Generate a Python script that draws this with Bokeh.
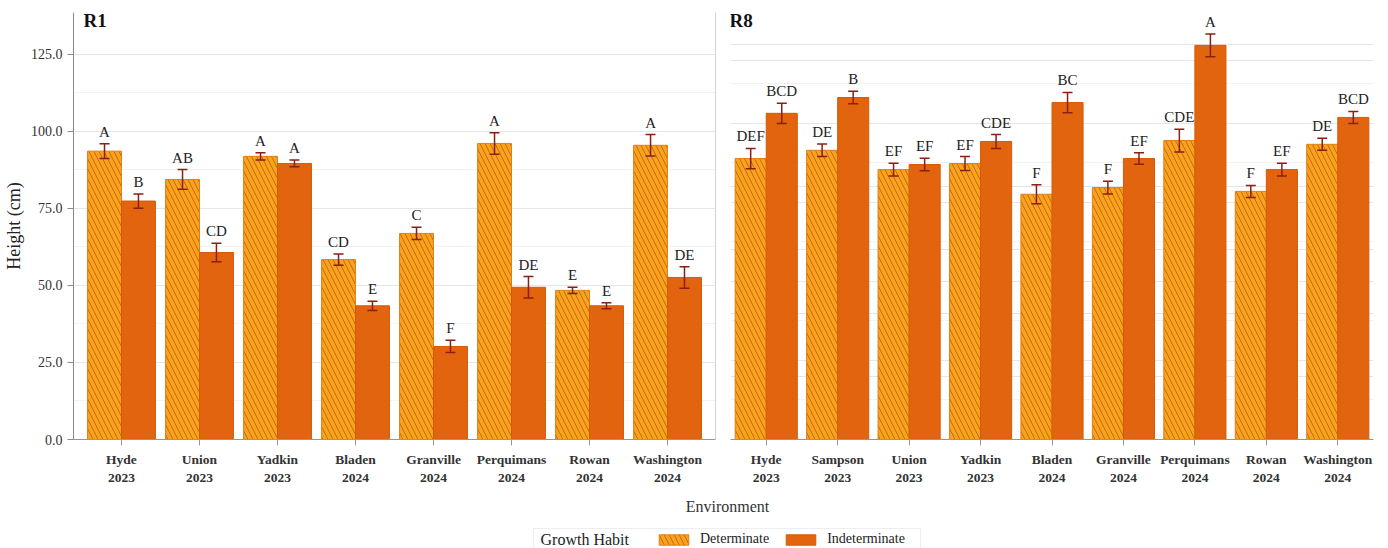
from bokeh.plotting import figure
from bokeh.models import (ColumnDataSource, FactorRange, Range1d, Whisker, TeeHead,
                          LinearAxis, FixedTicker, Label, Legend, BoxAnnotation,
                          LegendItem, NumeralTickFormatter, Grid)
from bokeh.transform import dodge
from bokeh.layouts import row, column
from bokeh.core.properties import value
from bokeh.embed import file_html
from bokeh.resources import INLINE

# ---------------- data ----------------
r1_sites = ["Hyde", "Union", "Yadkin", "Bladen", "Granville", "Perquimans", "Rowan", "Washington"]
r1_years = ["2023", "2023", "2023", "2024", "2024", "2024", "2024", "2024"]
r1_det = [93.6, 84.4, 91.9, 58.4, 66.9, 96.1, 48.4, 95.5]
r1_det_se = [2.4, 3.2, 1.2, 1.8, 2.0, 3.5, 1.0, 3.5]
r1_det_grp = ["A", "AB", "A", "CD", "C", "A", "E", "A"]
r1_ind = [77.4, 60.7, 89.6, 43.4, 30.2, 49.4, 43.4, 52.6]
r1_ind_se = [2.3, 3.0, 1.1, 1.5, 2.0, 3.5, 1.0, 3.5]
r1_ind_grp = ["B", "CD", "A", "E", "F", "DE", "E", "DE"]

r8_sites = ["Hyde", "Sampson", "Union", "Yadkin", "Bladen", "Granville", "Perquimans", "Rowan", "Washington"]
r8_years = ["2023", "2023", "2023", "2023", "2024", "2024", "2024", "2024", "2024"]
r8_det = [88.9, 91.5, 85.4, 87.3, 77.6, 79.7, 94.6, 78.5, 93.4]
r8_det_se = [3.2, 2.0, 2.0, 2.2, 3.0, 2.0, 3.6, 1.9, 1.9]
r8_det_grp = ["DEF", "DE", "EF", "EF", "F", "F", "CDE", "F", "DE"]
r8_ind = [103.2, 108.2, 87.0, 94.3, 106.6, 88.9, 124.7, 85.4, 101.9]
r8_ind_se = [3.2, 2.0, 2.0, 2.2, 3.2, 1.8, 3.6, 2.0, 1.9]
r8_ind_grp = ["BCD", "B", "EF", "CDE", "BC", "EF", "A", "EF", "BCD"]

habits = ["Determinate", "Indeterminate"]
y_major = [0, 25, 50, 75, 100, 125]
y_minor = [12.5, 37.5, 62.5, 87.5, 112.5]

# ---------------- style ----------------
FONT = value("Liberation Serif")
FONT_NAME = "Liberation Serif"
DET_FILL = "#F8A21E"
DET_HATCH = "#C96A0C"
DET_LINE = "#E0801A"
IND_FILL = "#E2640E"
IND_LINE = "#D45A0A"
ERR = "#8A1F14"
BAR_W = 0.435
OFF = BAR_W / 2


def panel(title, sites, years, det, det_se, det_grp, ind, ind_se, ind_grp,
          width, ymax, bl, br, pad, show_y):
    envs = [f"{s}\n{y}" for s, y in zip(sites, years)]
    src = ColumnDataSource(dict(
        env=envs, det=det, ind=ind,
        det_lo=[m - e for m, e in zip(det, det_se)], det_hi=[m + e for m, e in zip(det, det_se)],
        ind_lo=[m - e for m, e in zip(ind, ind_se)], ind_hi=[m + e for m, e in zip(ind, ind_se)],
        det_grp=det_grp, ind_grp=ind_grp))
    p = figure(x_range=FactorRange(*envs, range_padding=pad), y_range=Range1d(0, ymax),
               width=width, height=495, output_backend="svg", toolbar_location=None,
               min_border_left=bl, min_border_right=br, min_border_top=12, min_border_bottom=56,
               y_axis_location="left" if show_y else None, outline_line_color=None)
    xd = dodge("env", -OFF, range=p.x_range)
    xi = dodge("env", OFF, range=p.x_range)
    p.vbar(x=xd, top="det", width=BAR_W, source=src, fill_color=DET_FILL, line_color=DET_LINE,
           line_width=1, hatch_pattern="\\", hatch_color=DET_HATCH, hatch_scale=10, hatch_weight=1)
    p.vbar(x=xi, top="ind", width=BAR_W, source=src, fill_color=IND_FILL, line_color=IND_LINE,
           line_width=1)
    for base, lo, hi in ((xd, "det_lo", "det_hi"), (xi, "ind_lo", "ind_hi")):
        p.add_layout(Whisker(source=src, base=base, lower=lo, upper=hi, level="annotation",
                             line_color=ERR, line_width=1.5,
                             upper_head=TeeHead(size=10, line_color=ERR, line_width=1.5),
                             lower_head=TeeHead(size=10, line_color=ERR, line_width=1.5)))
    for x, y, t in ((xd, "det_hi", "det_grp"), (xi, "ind_hi", "ind_grp")):
        p.text(x=x, y=y, text=t, source=src, text_align="center", text_baseline="alphabetic",
               y_offset=-12, text_font=FONT, text_font_size="15px", text_color="#222222")

    # x axis
    p.xgrid.visible = False
    p.xaxis.axis_line_color = "#8e99a4"
    p.xaxis.major_tick_line_color = "#8e99a4"
    p.xaxis.major_tick_out = 6
    p.xaxis.major_tick_in = 0
    p.xaxis.major_label_standoff = 6
    p.xaxis.major_label_text_font = FONT_NAME
    p.xaxis.major_label_text_font_style = "bold"
    p.xaxis.major_label_text_font_size = "13.5px"
    p.xaxis.major_label_text_color = "#333333"

    tick = FixedTicker(ticks=y_major, minor_ticks=y_minor)
    if show_y:
        p.yaxis.ticker = tick
        p.yaxis.formatter = NumeralTickFormatter(format="0.0")
        p.yaxis.axis_label = "Height (cm)"
        p.yaxis.axis_label_text_font = FONT_NAME
        p.yaxis.axis_label_text_font_style = "normal"
        p.yaxis.axis_label_text_font_size = "18px"
        p.yaxis.axis_label_text_color = "#222222"
        p.yaxis.axis_label_standoff = 4
        p.yaxis.major_label_text_font = FONT_NAME
        p.yaxis.major_label_text_font_size = "14px"
        p.yaxis.major_label_text_color = "#333333"
        p.yaxis.axis_line_color = "#8a8a8a"
        p.yaxis.major_tick_line_color = "#8a8a8a"
        p.yaxis.major_tick_out = 6
        p.yaxis.major_tick_in = 0
        p.yaxis.minor_tick_line_color = None
        p.ygrid.ticker = tick
        p.ygrid.grid_line_color = "#e6e6e6"
        p.ygrid.minor_grid_line_color = "#f3f3f3"
        # thin right border line
        rax = LinearAxis(ticker=FixedTicker(ticks=[]), axis_line_color="#d2d2d2",
                         major_tick_line_color=None, minor_tick_line_color=None,
                         major_label_standoff=0, major_label_text_font_size="0px")
        p.add_layout(rax, "right")
    else:
        p.add_layout(Grid(dimension=1, ticker=tick, grid_line_color="#e6e6e6",
                          minor_grid_line_color="#f3f3f3"))

    p.add_layout(Label(x=10 if show_y else -1, y=419, x_units="screen", y_units="screen", text=title,
                       text_font=FONT_NAME, text_font_style="bold", text_font_size="19px",
                       text_color="#111111", text_baseline="middle", text_align="left"))
    return p


p1 = panel("R1", r1_sites, r1_years, r1_det, r1_det_se, r1_det_grp, r1_ind, r1_ind_se, r1_ind_grp,
           722, 138.6, 73, 7, 0.0288, True)
p2 = panel("R8", r8_sites, r8_years, r8_det, r8_det_se, r8_det_grp, r8_ind, r8_ind_se, r8_ind_grp,
           666, 135.1, 8, 15, 0.0, False)

# ---------------- bottom strip: axis title + legend ----------------
b = figure(width=1388, height=53, x_range=Range1d(0, 1388), y_range=Range1d(0, 53),
           output_backend="svg", toolbar_location=None, min_border=0,
           x_axis_type=None, y_axis_type=None, outline_line_color=None)
# legend proxies (a single undefined point each, never drawn in the plot area)
proxy = ColumnDataSource(dict(x=[float("nan")], top=[float("nan")]))
rd = b.vbar(x="x", top="top", width=1, source=proxy, fill_color=DET_FILL, line_color=DET_LINE,
            hatch_pattern="\\", hatch_color=DET_HATCH, hatch_scale=10, hatch_weight=1)
ri = b.vbar(x="x", top="top", width=1, source=proxy, fill_color=IND_FILL, line_color=IND_LINE)
leg = Legend(items=[LegendItem(label=habits[0], renderers=[rd]),
                    LegendItem(label=habits[1], renderers=[ri])],
             orientation="horizontal", location=(655, 1), glyph_width=37, glyph_height=13,
             label_standoff=8, spacing=13, padding=0, margin=0, border_line_color=None,
             background_fill_alpha=0,
             label_text_font=FONT_NAME, label_text_font_size="14px", label_text_color="#222222")
b.add_layout(leg)
b.add_layout(BoxAnnotation(left=533, right=920, bottom=-3, top=20, fill_alpha=0,
                           line_color="#c8c8c8", line_width=1))
b.add_layout(Label(x=540, y=9.5, text="Growth Habit", text_align="left", text_baseline="middle",
                   text_font=FONT_NAME, text_font_size="16px", text_color="#222222"))
b.add_layout(Label(x=727, y=42, text="Environment", text_align="center", text_baseline="middle",
                   text_font=FONT_NAME, text_font_size="16px", text_color="#333333"))

layout = column(row(p1, p2), b)
open("out.html", "w").write(file_html(layout, INLINE))
